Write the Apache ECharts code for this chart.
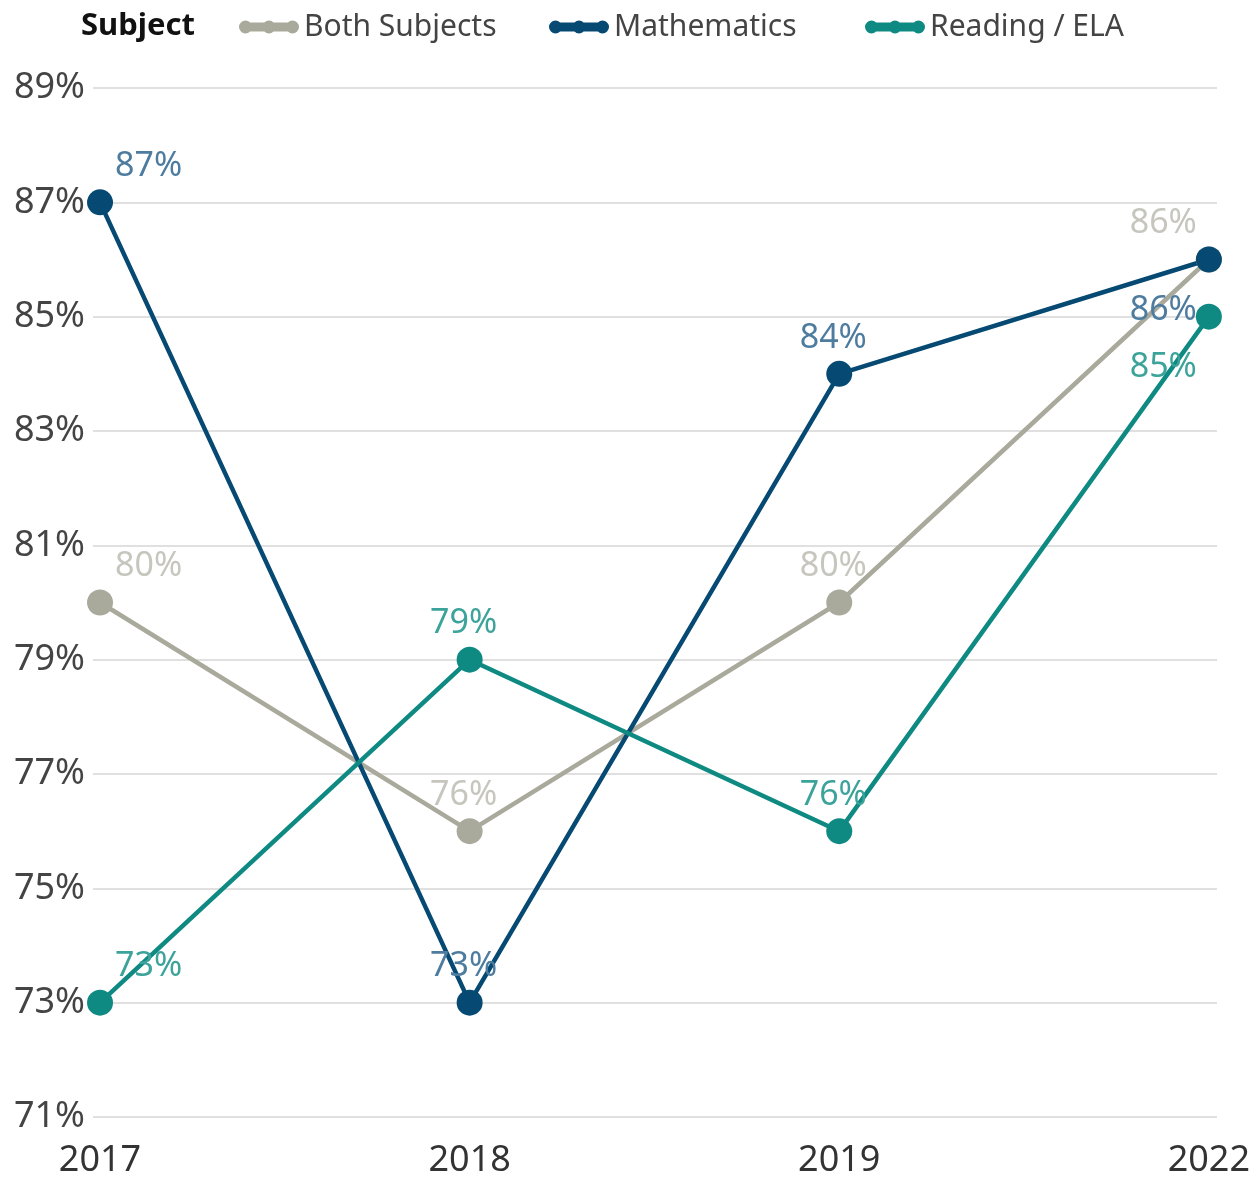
<!DOCTYPE html>
<html>
<head>
<meta charset="utf-8">
<script src="https://cdn.jsdelivr.net/npm/echarts@6/dist/echarts.min.js"></script>
<style>
html, body { margin: 0; padding: 0; background: #fff; }
#chart { width: 1257px; height: 1180px; }
</style>
</head>
<body>
<div id="chart"></div>
<script>
// data
var years = ['2017', '2018', '2019', '2022'];
var seriesNames = ['Both Subjects', 'Mathematics', 'Reading / ELA'];
var bothSubjects = [80, 76, 80, 86];
var mathematics = [87, 73, 84, 86];
var readingEla = [73, 79, 76, 85];
var yTicks = [71, 73, 75, 77, 79, 81, 83, 85, 87, 89];

var lineColors = { both: '#a9a99c', math: '#064a73', read: '#0e8a82' };
var labelColors = { both: '#c6c6be', math: '#4d7c9f', read: '#3ca39b' };

// icon : thick line with three dots
var legendIcon = 'path://M6,2 L54,2 L54,11 L6,11 Z M0,6.5 A6.5,6.5 0 1 1 13,6.5 A6.5,6.5 0 1 1 0,6.5 Z M23.5,6.5 A6.5,6.5 0 1 1 36.5,6.5 A6.5,6.5 0 1 1 23.5,6.5 Z M47,6.5 A6.5,6.5 0 1 1 60,6.5 A6.5,6.5 0 1 1 47,6.5 Z';
var legendLefts = [234, 544, 860];

// label placement for each point (below = label under the point)
function labelFor(i, below) {
	var dy = below ? 51 : -36;
	if (i === 0) {
		return { align : 'left', offset : [ 15, dy ] };
	}
	if (i === years.length - 1) {
		return { align : 'right', offset : [ -12, dy ] };
	}
	return { align : 'center', offset : [ -6, dy ] };
}

function buildData(values, belowLast) {
	var arr = [];
	for (var i = 0; i < values.length; i++) {
		arr.push({
			value : [ i, values[i] ],
			label : labelFor(i, belowLast && i === values.length - 1)
		});
	}
	return arr;
}

function makeSeries(name, values, key, belowLast) {
	return {
		name : name,
		type : 'line',
		data : buildData(values, belowLast),
		symbol : 'circle',
		symbolSize : 26,
		lineStyle : { width : 4.5, color : lineColors[key] },
		itemStyle : { color : lineColors[key] },
		label : {
			show : true,
			position : 'inside',
			verticalAlign : 'middle',
			color : labelColors[key],
			fontFamily : 'Noto Sans',
			fontSize : 34,
			formatter : function(p) {
				return p.value[1] + '%';
			}
		},
		emphasis : { disabled : true },
		animation : false
	};
}

// one legend per item so each sits where the reference puts it
var legends = [];
for (var i = 0; i < seriesNames.length; i++) {
	legends.push({
		left : legendLefts[i],
		top : 7,
		itemWidth : 60,
		itemHeight : 13,
		icon : legendIcon,
		textStyle : {
			fontFamily : 'Noto Sans',
			fontSize : 30,
			color : '#444444'
		},
		data : [ seriesNames[i] ]
	});
}

var chart = echarts.init(document.getElementById('chart'));

var option = {
	backgroundColor : '#ffffff',
	title : {
		text : 'Subject',
		left : 76,
		top : 6,
		textStyle : {
			fontFamily : 'Noto Sans',
			fontWeight : 'bold',
			fontSize : 31,
			color : '#111111'
		}
	},
	legend : legends,
	grid : {
		left : 93,
		right : 40,
		top : 88,
		bottom : 63,
		containLabel : false
	},
	xAxis : {
		type : 'value',
		min : -0.019,
		max : 3.022,
		axisLine : { show : false },
		axisTick : { show : false },
		splitLine : { show : false },
		axisLabel : {
			customValues : [ 0, 1, 2, 3 ],
			formatter : function(v) {
				return years[Math.round(v)];
			},
			fontFamily : 'Noto Sans',
			fontSize : 36,
			color : '#333333',
			margin : 26
		}
	},
	yAxis : {
		type : 'value',
		min : 71,
		max : 89,
		interval : 2,
		axisLine : { show : false },
		axisTick : { show : false },
		splitLine : { lineStyle : { color : '#e0e0e0', width : 2 } },
		axisLabel : {
			customValues : yTicks,
			formatter : '{value}%',
			fontFamily : 'Noto Sans',
			fontSize : 36,
			color : '#444444',
			margin : 8
		}
	},
	series : [
		makeSeries(seriesNames[0], bothSubjects, 'both', false),
		makeSeries(seriesNames[1], mathematics, 'math', true),
		makeSeries(seriesNames[2], readingEla, 'read', true)
	]
};

chart.setOption(option);
</script>
</body>
</html>
